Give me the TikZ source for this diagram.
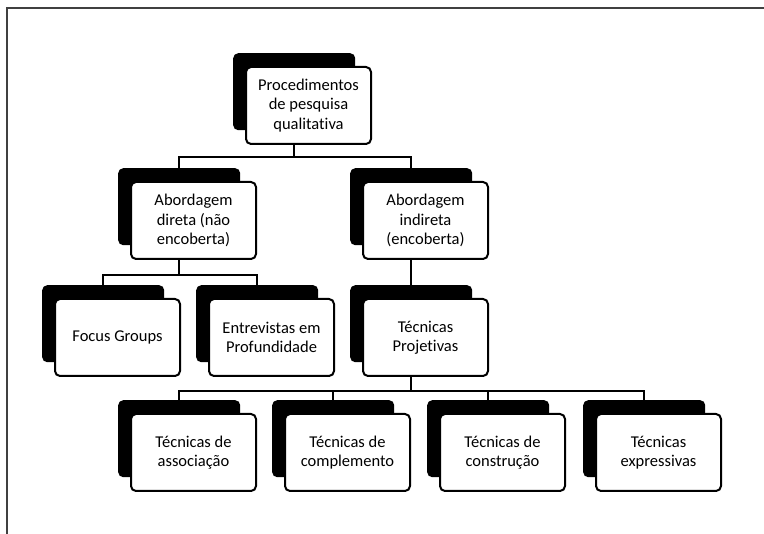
\documentclass[tikz,border=0pt]{standalone}
\usepackage{fontspec}
\setmainfont[Ligatures={NoCommon}]{Carlito}
\begin{document}
\begin{tikzpicture}[x=1pt,y=-1pt,
  shadowbox/.style={fill=black, rounded corners=5pt, minimum width=122pt, minimum height=77pt, anchor=north west, inner sep=0pt},
  mainbox/.style={fill=white, draw=black, line width=2pt, rounded corners=5pt, minimum width=125pt, minimum height=77pt, anchor=north west, inner sep=2pt, align=center, font=\fontsize{16.5}{19.5}\selectfont},
  conn/.style={draw=black, line width=2.2pt}]
\useasboundingbox (0,0) rectangle (764,534);
\draw[line width=1.3pt, black!75] (7,534) -- (7,8) -- (764,8);
% helper
\newcommand{\mybox}[4]{%
  \node[shadowbox] (#1s) at (#2,#3) {};
  \node[mainbox] (#1) at (#2+12,#3+13) {#4};}
\mybox{p}{233}{53}{Procedimentos\\de pesquisa\\qualitativa}
\mybox{da}{118}{168}{Abordagem\\direta (não\\encoberta)}
\mybox{ia}{350}{168}{Abordagem\\indireta\\(encoberta)}
\mybox{fg}{42}{285}{Focus Groups}
\mybox{ep}{196}{285}{Entrevistas em\\Profundidade}
\mybox{tp}{350}{285}{Técnicas\\Projetivas}
\mybox{ta}{118}{400}{Técnicas de\\associação}
\mybox{tc}{272}{400}{Técnicas de\\complemento}
\mybox{tn}{427}{400}{Técnicas de\\construção}
\mybox{te}{583}{400}{Técnicas\\expressivas}
% connectors
\draw[conn] (p.south -| ps.center) -- ++(0,12) coordinate (b1);
\draw[conn] (das.north) |- (b1) -| (ias.north);
\draw[conn] (da.south -| das.center) -- ++(0,15) coordinate (b2);
\draw[conn] (fgs.north) |- (b2) -| (eps.north);
\draw[conn] (ia.south -| ias.center) -- (tps.north);
\draw[conn] (tp.south -| tps.center) -- ++(0,14) coordinate (b3);
\draw[conn] (tas.north) |- (b3) -| (tes.north);
\draw[conn] (tcs.north) -- (tcs.north |- b3);
\draw[conn] (tns.north) -- (tns.north |- b3);
\end{tikzpicture}
\end{document}
